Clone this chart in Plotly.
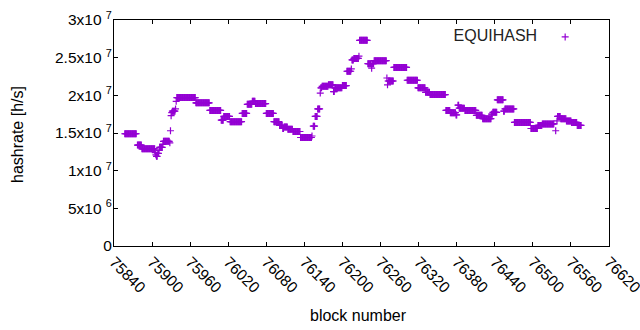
import plotly.graph_objects as go

# Run-length encoded readings: blocks [run_start..run_end] share the same hashrate (in units of 1e6 h/s)
run_start = [75857, 75877, 75884, 75905, 75906, 75907, 75909, 75911, 75912, 75917, 75918, 75928, 75929,
             75930, 75931, 75932, 75937, 75938, 75939, 75969, 75991, 76009, 76013, 76023, 76042, 76050,
             76058, 76063, 76080, 76092, 76101, 76106, 76108, 76114, 76122, 76134, 76152, 76154, 76157,
             76161, 76165, 76166, 76168, 76178, 76186, 76188, 76200, 76207, 76214, 76215, 76218, 76226,
             76227, 76240, 76246, 76247, 76250, 76270, 76271, 76272, 76281, 76302, 76319, 76331, 76338,
             76363, 76370, 76379, 76382, 76384, 76393, 76411, 76421, 76435, 76437, 76444, 76454, 76456,
             76471, 76497, 76508, 76515, 76536, 76538, 76539, 76544, 76553, 76561, 76570]
run_end = [75875, 75883, 75904, 75905, 75906, 75908, 75910, 75911, 75916, 75917, 75927, 75928, 75929,
           75930, 75931, 75936, 75937, 75938, 75968, 75990, 76008, 76012, 76022, 76041, 76049, 76057,
           76062, 76079, 76091, 76100, 76105, 76107, 76113, 76121, 76133, 76151, 76152, 76156, 76160,
           76164, 76165, 76167, 76177, 76185, 76187, 76199, 76206, 76213, 76214, 76217, 76225, 76226,
           76239, 76245, 76246, 76249, 76269, 76270, 76271, 76280, 76301, 76318, 76330, 76337, 76362,
           76369, 76378, 76380, 76383, 76392, 76410, 76420, 76434, 76436, 76443, 76453, 76455, 76470,
           76496, 76507, 76514, 76533, 76536, 76538, 76543, 76552, 76560, 76569, 76576]
run_value = [14.9, 13.4, 12.9, 12.4, 12.1, 11.9, 12.3, 12.7, 13.1, 13.5, 13.9, 13.7, 15.3,
             17.3, 17.7, 17.9, 18.2, 19.2, 19.7, 19.0, 18.0, 16.7, 17.2, 16.5, 17.6, 18.8,
             19.2, 18.9, 17.6, 16.5, 16.0, 15.6, 15.8, 15.5, 15.2, 14.4, 14.6, 15.9, 17.2,
             18.2, 20.3, 21.0, 21.2, 21.4, 20.5, 21.0, 21.3, 23.2, 23.5, 24.7, 24.9, 25.2,
             27.3, 24.2, 23.6, 24.2, 24.6, 22.3, 21.4, 21.9, 23.7, 22.0, 21.0, 20.4, 20.1,
             18.0, 17.7, 17.4, 18.7, 18.3, 18.0, 17.35, 16.9, 17.5, 17.75, 19.4, 17.9, 18.2,
             16.4, 15.6, 16.0, 16.2, 15.3, 16.6, 17.2, 16.9, 16.6, 16.4, 16.0]

x_ticks = [75840, 75900, 75960, 76020, 76080, 76140, 76200, 76260, 76320, 76380, 76440, 76500, 76560, 76620]
x_ticklabels = [str(v) for v in x_ticks]
y_ticks = [0, 5e6, 1e7, 1.5e7, 2e7, 2.5e7, 3e7]
y_ticklabels = ["0", "5x10 <sup>6</sup>", "1x10 <sup>7</sup>", "1.5x10 <sup>7</sup>",
                "2x10 <sup>7</sup>", "2.5x10 <sup>7</sup>", "3x10 <sup>7</sup>"]

blocks, rates = [], []
for s, e, v in zip(run_start, run_end, run_value):
    for b in range(s, e + 1):
        blocks.append(b)
        rates.append(v * 1e6)

FONT = "Liberation Sans, Arial, sans-serif"
COLOR = "#9400d3"

fig = go.Figure()
fig.add_trace(go.Scatter(
    x=blocks, y=rates, mode="markers", name="",
    marker=dict(symbol="cross-thin", size=5, color=COLOR,
                line=dict(width=1.2, color=COLOR)),
    showlegend=True,
))

fig.update_layout(
    width=640, height=330,
    margin=dict(l=114, r=31, t=20, b=84),
    plot_bgcolor="white", paper_bgcolor="white",
    font=dict(family=FONT, size=16, color="black"),
    showlegend=True,
    legend=dict(x=0.682, y=1.0, xanchor="left", yanchor="top",
                bgcolor="rgba(0,0,0,0)",
                title=dict(text="EQUIHASH", side="left", font=dict(family=FONT, size=16, color="#222")),
                font=dict(family=FONT, size=16)),
    annotations=[
        dict(text="block number", xref="paper", yref="paper", x=0.5, y=0, xshift=-3, yshift=-69,
             xanchor="center", yanchor="middle", showarrow=False,
             font=dict(family=FONT, size=16, color="black")),
        dict(text="hashrate [h/s]", xref="paper", yref="paper", x=0, y=0.5, xshift=-97, yshift=-2,
             xanchor="center", yanchor="middle", textangle=-90, showarrow=False,
             font=dict(family=FONT, size=16, color="black")),
    ],
)
fig.update_xaxes(
    range=[75840, 76620], tickmode="array", tickvals=x_ticks, ticktext=x_ticklabels,
    tickangle=45, ticks="inside", ticklen=4, tickcolor="black",
    showline=True, linecolor="black", linewidth=1, mirror="ticks",
    showgrid=False, zeroline=False, automargin=False, ticklabeloverflow="allow",
    tickfont=dict(family=FONT, size=15.5, color="black"),
)
fig.update_yaxes(
    range=[0, 3e7], tickmode="array", tickvals=y_ticks, ticktext=y_ticklabels,
    ticks="inside", ticklen=4, tickcolor="black",
    showline=True, linecolor="black", linewidth=1, mirror="ticks",
    showgrid=False, zeroline=False, automargin=False, ticklabelstandoff=-2,
    tickfont=dict(family=FONT, size=15.5, color="black"),
)

fig.write_html("out.html", post_script="document.body.style.margin='0';",
               config={"displayModeBar": False})
